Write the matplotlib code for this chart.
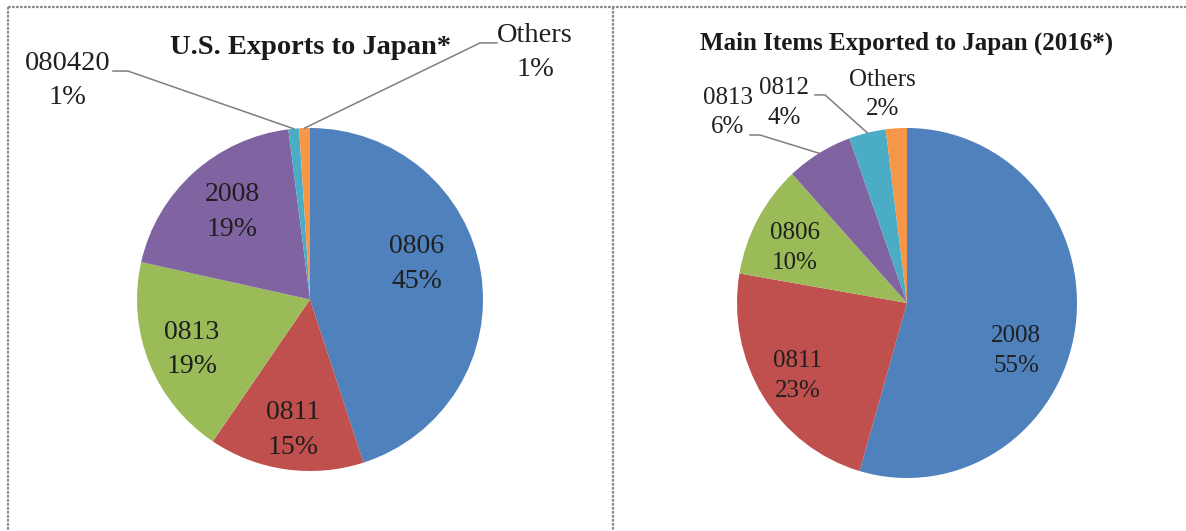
import numpy as np
import matplotlib
matplotlib.use("Agg")
import matplotlib.pyplot as plt
from matplotlib.lines import Line2D

W, H = 1186, 531
plt.rcParams["font.family"] = ["Liberation Serif", "DejaVu Serif"]

COLORS = ["#4F81BD", "#C0504D", "#9BBB59", "#8064A2", "#4BACC6", "#F79646"]

# left panel: U.S. exports to Japan (share, %), clockwise from 12 o'clock
l_codes = ["0806", "0811", "0813", "2008", "080420", "Others"]
l_share = [45.0, 14.5, 19.0, 19.5, 1.0, 1.0]
l_pct = ["45%", "15%", "19%", "19%", "1%", "1%"]

# right panel: main items exported to Japan (2016*)
r_codes = ["2008", "0811", "0806", "0813", "0812", "Others"]
r_share = [54.5, 23.2, 10.5, 6.3, 3.5, 2.0]
r_pct = ["55%", "23%", "10%", "6%", "4%", "2%"]


def px_axes(fig, x0, y0, x1, y1):
    # axes given by pixel box (top-left origin)
    return fig.add_axes([x0 / W, 1 - y1 / H, (x1 - x0) / W, (y1 - y0) / H])


def wedge_mid(shares, i):
    cum = np.cumsum([0] + list(shares)) / sum(shares) * 360
    a = np.deg2rad(90 - (cum[i] + cum[i + 1]) / 2)
    return np.cos(a), np.sin(a)


def draw_pie(ax, shares):
    ax.pie(shares, colors=COLORS, startangle=90, counterclock=False, radius=1,
           wedgeprops=dict(linewidth=0))
    ax.set_aspect("auto")
    ax.set_xlim(-1, 1)
    ax.set_ylim(-1, 1)
    ax.axis("off")


fig = plt.figure(figsize=(W / 100, H / 100), dpi=100)

# panel borders
bc = "#8a8a8a"
for xs, ys in [((8, 8), (7, H)), ((8, W), (7, 7)), ((612.5, 612.5), (7, H))]:
    fig.add_artist(Line2D([x / W for x in xs], [1 - y / H for y in ys], color=bc,
                          lw=1.6, ls=(0, (1.2, 0.6)), transform=fig.transFigure))

txt = "#1f1f1f"
lead = "#7f7f7f"

# ---- left pie
axl = px_axes(fig, 137, 128, 483, 471)
draw_pie(axl, l_share)
l_pos = [(0.618, 0.207), (-0.098, -0.761), (-0.682, -0.289), (-0.451, 0.510),
         (-1.402, 1.277), (1.301, 1.440)]
for i, (x, y) in enumerate(l_pos):
    axl.text(x, y, f"{l_codes[i]}\n{l_pct[i]}", ha="center", va="center",
             fontsize=20.5 if i >= 4 else 20, color=txt, linespacing=1.48)
# leaders for the two thin slices
for i, (hx0, hx1, hy) in [(4, (-1.139, -1.052, 1.332)), (5, (1.081, 0.983, 1.496))]:
    mx, my = wedge_mid(l_share, i)
    axl.plot([hx0, hx1, mx], [hy, hy, my], color=lead, lw=1.1, clip_on=False)
axl.text(0.005, 1.47, "U.S. Exports to Japan*", ha="center", va="center",
         fontsize=20.5, fontweight="bold", color="#1a1a1a")

# ---- right pie
axr = px_axes(fig, 737, 128, 1077, 478)
draw_pie(axr, r_share)
r_pos = [(0.641, -0.274), (-0.641, -0.417), (-0.659, 0.314),
         (-1.053, 1.091), (-0.724, 1.143), (-0.144, 1.189)]
for i, (x, y) in enumerate(r_pos):
    axr.text(x, y, f"{r_codes[i]}\n{r_pct[i]}", ha="center", va="center",
             fontsize=18, color=txt, linespacing=1.42)
for i, (hx0, hx1, hy) in [(3, (-0.924, -0.865, 0.96)), (4, (-0.541, -0.482, 1.189))]:
    mx, my = wedge_mid(r_share, i)
    axr.plot([hx0, hx1, mx], [hy, hy, my], color=lead, lw=1.1, clip_on=False)
axr.text(0.0, 1.486, "Main Items Exported to Japan (2016*)", ha="center", va="center",
         fontsize=18, fontweight="bold", color="#1a1a1a")

fig.savefig("out.png", dpi=100)
